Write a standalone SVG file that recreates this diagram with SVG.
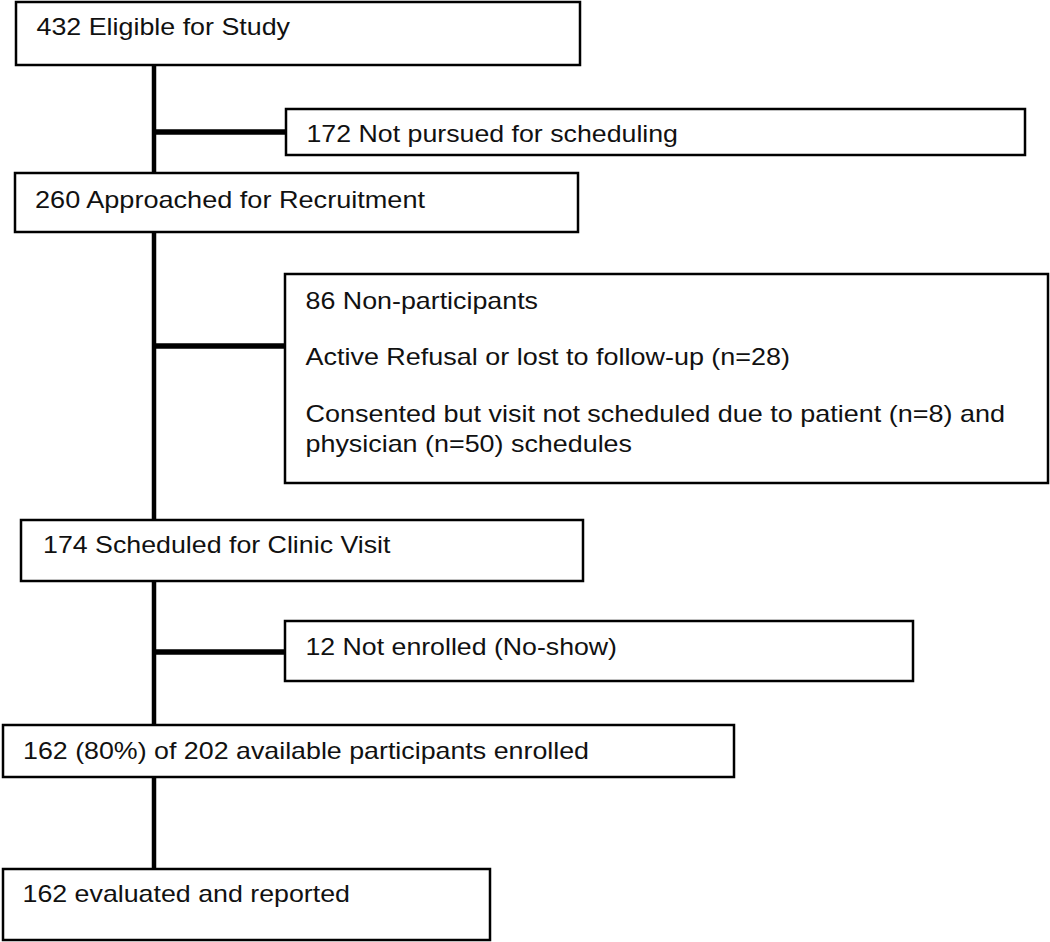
<svg xmlns="http://www.w3.org/2000/svg" width="1050" height="942" viewBox="0 0 1050 942">
<style>
.box{fill:#fff;stroke:#000;stroke-width:2.5}
.t{font-family:"Liberation Sans",Arial,sans-serif;font-size:24px;fill:#111}
.c{stroke:#000;stroke-width:4.5;fill:none}
.b{stroke:#000;stroke-width:5.5;fill:none}
</style>
<rect width="1050" height="942" fill="#fff"/>
<g id="connectors">
<line class="c" x1="154" y1="65" x2="154" y2="173"/>
<line class="c" x1="154" y1="232" x2="154" y2="520"/>
<line class="c" x1="154" y1="581" x2="154" y2="725"/>
<line class="c" x1="154" y1="777" x2="154" y2="868"/>
<line class="b" x1="154" y1="132" x2="286" y2="132"/>
<line class="b" x1="154" y1="346" x2="285" y2="346"/>
<line class="b" x1="154" y1="652" x2="285" y2="652"/>
</g>
<g id="n1">
<rect class="box" x="16" y="2" width="564" height="63"/>
<text class="t" x="36.5" y="35" textLength="253.5" lengthAdjust="spacingAndGlyphs">432 Eligible for Study</text>
</g>
<g id="n2">
<rect class="box" x="286" y="109" width="739" height="46"/>
<text class="t" x="306.5" y="142" textLength="371.5" lengthAdjust="spacingAndGlyphs">172 Not pursued for scheduling</text>
</g>
<g id="n3">
<rect class="box" x="15" y="173" width="563" height="59"/>
<text class="t" x="35" y="208" textLength="390" lengthAdjust="spacingAndGlyphs">260 Approached for Recruitment</text>
</g>
<g id="n4">
<rect class="box" x="285" y="274" width="763" height="209"/>
<text class="t" x="305.5" y="309" textLength="232.5" lengthAdjust="spacingAndGlyphs">86 Non-participants</text>
<text class="t" x="305.5" y="365" textLength="484.5" lengthAdjust="spacingAndGlyphs">Active Refusal or lost to follow-up (n=28)</text>
<text class="t" x="305.5" y="421.5" textLength="699.5" lengthAdjust="spacingAndGlyphs">Consented but visit not scheduled due to patient (n=8) and</text>
<text class="t" x="305.5" y="451.5" textLength="326.5" lengthAdjust="spacingAndGlyphs">physician (n=50) schedules</text>
</g>
<g id="n5">
<rect class="box" x="21" y="520" width="562" height="61"/>
<text class="t" x="43" y="553" textLength="347.5" lengthAdjust="spacingAndGlyphs">174 Scheduled for Clinic Visit</text>
</g>
<g id="n6">
<rect class="box" x="285" y="621" width="628" height="60"/>
<text class="t" x="305.5" y="655" textLength="311.5" lengthAdjust="spacingAndGlyphs">12 Not enrolled (No-show)</text>
</g>
<g id="n7">
<rect class="box" x="3" y="725" width="731" height="52"/>
<text class="t" x="23" y="759" textLength="566" lengthAdjust="spacingAndGlyphs">162 (80%) of 202 available participants enrolled</text>
</g>
<g id="n8">
<rect class="box" x="3" y="869" width="487" height="71"/>
<text class="t" x="22.5" y="902" textLength="327.5" lengthAdjust="spacingAndGlyphs">162 evaluated and reported</text>
</g>
</svg>
